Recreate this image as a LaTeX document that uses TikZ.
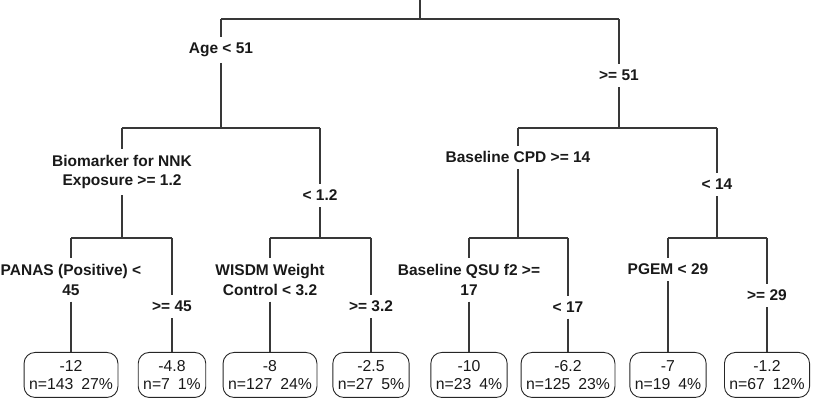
\documentclass[tikz,border=0pt]{standalone}
\usepackage{fontspec}
\setmainfont{Liberation Sans}
\begin{document}
\begin{tikzpicture}[x=1pt,y=-1pt,
  conn/.style={draw=black!78, line width=1.2pt},
  lab/.style={font=\fontsize{15.5}{19.5}\selectfont\bfseries, align=center, inner xsep=0pt, inner ysep=6pt, text=black!90},
  leaf/.style={draw=black!85, line width=0.9pt, rounded corners=11pt, align=center,
    font=\fontsize{15.8}{18.4}\selectfont, inner xsep=5pt, inner ysep=2pt, minimum height=45pt, anchor=north, text=black!90}
]
\useasboundingbox (0,0) rectangle (817,403);
% root
\coordinate (t0) at (420,0);
\coordinate (h0) at (420,19);
\coordinate (hL0) at (221,19);
\coordinate (hR0) at (619,19);
\draw[conn] (t0) -- (h0);
\draw[conn] (hL0) -- (hR0);
% level 1
\node[lab, anchor=base] (n1) at (221,53.5) {Age < 51};
\node[lab, anchor=base] (n2) at (619,81) {>= 51};
\coordinate (j1) at (221,128);
\coordinate (j2) at (619,128);
\draw[conn] (hL0) -- (n1);
\draw[conn] (n1) -- (j1);
\draw[conn] (hR0) -- (n2);
\draw[conn] (n2) -- (j2);
\coordinate (hL1) at (122,128);
\coordinate (hR1) at (320,128);
\coordinate (hL2) at (518,128);
\coordinate (hR2) at (717,128);
\draw[conn] (hL1) -- (hR1);
\draw[conn] (hL2) -- (hR2);
% level 2
\node[lab] (n11) at (122,172) {Biomarker for NNK\\Exposure >= 1.2};
\node[lab, anchor=base] (n12) at (320,201) {< 1.2};
\node[lab, anchor=base] (n21) at (518,163) {Baseline CPD >= 14};
\node[lab, anchor=base] (n22) at (717,190) {< 14};
\coordinate (j11) at (122,238);
\coordinate (j12) at (320,238);
\coordinate (j21) at (518,238);
\coordinate (j22) at (717,238);
\draw[conn] (hL1) -- (n11);
\draw[conn] (n11) -- (j11);
\draw[conn] (hR1) -- (n12);
\draw[conn] (n12) -- (j12);
\draw[conn] (hL2) -- (n21);
\draw[conn] (n21) -- (j21);
\draw[conn] (hR2) -- (n22);
\draw[conn] (n22) -- (j22);
\coordinate (a1) at (71,238);
\coordinate (a2) at (172,238);
\coordinate (a3) at (270,238);
\coordinate (a4) at (371,238);
\coordinate (a5) at (469,238);
\coordinate (a6) at (568,238);
\coordinate (a7) at (668,238);
\coordinate (a8) at (767,238);
\draw[conn] (a1) -- (a2);
\draw[conn] (a3) -- (a4);
\draw[conn] (a5) -- (a6);
\draw[conn] (a7) -- (a8);
% level 3
\node[lab] (n111) at (71,280) {PANAS (Positive) <\\45};
\node[lab, anchor=base] (n112) at (172,312) {>= 45};
\node[lab] (n121) at (270,280) {WISDM Weight\\Control < 3.2};
\node[lab, anchor=base] (n122) at (371,312) {>= 3.2};
\node[lab] (n211) at (469,280) {Baseline QSU f2 >=\\17};
\node[lab, anchor=base] (n212) at (568,312.5) {< 17};
\node[lab, anchor=base] (n221) at (668,275) {PGEM < 29};
\node[lab, anchor=base] (n222) at (767,301) {>= 29};
% leaves
\node[leaf] (l1) at (71,352) {-12\\n=143\hspace{0.5em}27\%};
\node[leaf] (l2) at (172,352) {-4.8\\n=7\hspace{0.5em}1\%};
\node[leaf] (l3) at (270,352) {-8\\n=127\hspace{0.5em}24\%};
\node[leaf] (l4) at (371,352) {-2.5\\n=27\hspace{0.5em}5\%};
\node[leaf] (l5) at (469,352) {-10\\n=23\hspace{0.5em}4\%};
\node[leaf] (l6) at (568,352) {-6.2\\n=125\hspace{0.5em}23\%};
\node[leaf] (l7) at (668,352) {-7\\n=19\hspace{0.5em}4\%};
\node[leaf] (l8) at (767,352) {-1.2\\n=67\hspace{0.5em}12\%};
% connectors to labels and leaves
\draw[conn] (a1) -- (n111);
\draw[conn] (n111) -- (l1);
\draw[conn] (a2) -- (n112);
\draw[conn] (n112) -- (l2);
\draw[conn] (a3) -- (n121);
\draw[conn] (n121) -- (l3);
\draw[conn] (a4) -- (n122);
\draw[conn] (n122) -- (l4);
\draw[conn] (a5) -- (n211);
\draw[conn] (n211) -- (l5);
\draw[conn] (a6) -- (n212);
\draw[conn] (n212) -- (l6);
\draw[conn] (a7) -- (n221);
\draw[conn] (n221) -- (l7);
\draw[conn] (a8) -- (n222);
\draw[conn] (n222) -- (l8);
\end{tikzpicture}
\end{document}
